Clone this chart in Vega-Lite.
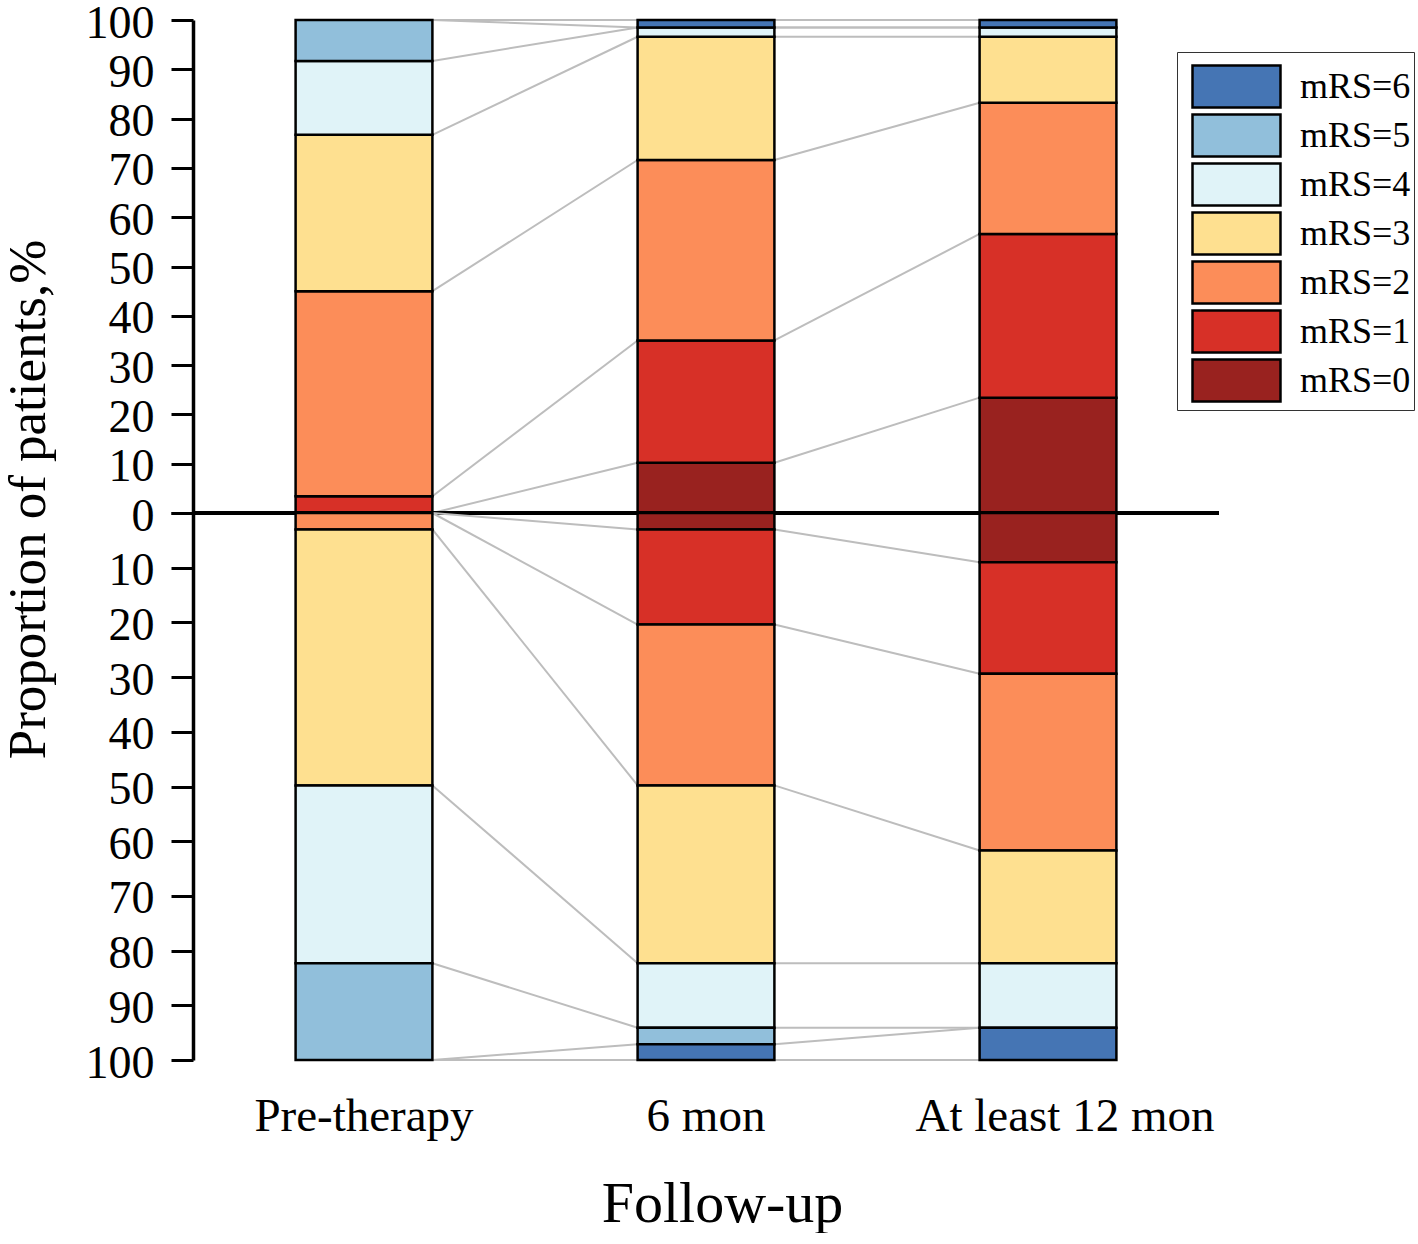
{
  "$schema": "https://vega.github.io/schema/vega-lite/v6.json",
  "description": "mRS distribution before therapy and at follow-up, two cohorts",
  "padding": {"left": 2, "top": 0, "right": 0, "bottom": 0},
  "spacing": 0,
  "bounds": "flush",
  "config": {
    "view": {"stroke": null},
    "font": "Liberation Serif",
    "axis": {"labelFont": "Liberation Serif", "titleFont": "Liberation Serif", "labelColor": "black", "titleColor": "black", "titleFontWeight": "normal"},
    "legend": {"labelFont": "Liberation Serif", "titleFont": "Liberation Serif"}
  },
  "datasets": {
    "upper": [
      {"stage": "Pre-therapy", "step": 1, "mRS": 0, "pct": 0},
      {"stage": "Pre-therapy", "step": 1, "mRS": 1, "pct": 3.4},
      {"stage": "Pre-therapy", "step": 1, "mRS": 2, "pct": 41.6},
      {"stage": "Pre-therapy", "step": 1, "mRS": 3, "pct": 31.7},
      {"stage": "Pre-therapy", "step": 1, "mRS": 4, "pct": 15.0},
      {"stage": "Pre-therapy", "step": 1, "mRS": 5, "pct": 8.3},
      {"stage": "Pre-therapy", "step": 1, "mRS": 6, "pct": 0},
      {"stage": "6 mon", "step": 2, "mRS": 0, "pct": 10.2},
      {"stage": "6 mon", "step": 2, "mRS": 1, "pct": 24.8},
      {"stage": "6 mon", "step": 2, "mRS": 2, "pct": 36.6},
      {"stage": "6 mon", "step": 2, "mRS": 3, "pct": 25.0},
      {"stage": "6 mon", "step": 2, "mRS": 4, "pct": 1.9},
      {"stage": "6 mon", "step": 2, "mRS": 5, "pct": 0},
      {"stage": "6 mon", "step": 2, "mRS": 6, "pct": 1.5},
      {"stage": "At least 12 mon", "step": 3, "mRS": 0, "pct": 23.4},
      {"stage": "At least 12 mon", "step": 3, "mRS": 1, "pct": 33.2},
      {"stage": "At least 12 mon", "step": 3, "mRS": 2, "pct": 26.6},
      {"stage": "At least 12 mon", "step": 3, "mRS": 3, "pct": 13.4},
      {"stage": "At least 12 mon", "step": 3, "mRS": 4, "pct": 1.9},
      {"stage": "At least 12 mon", "step": 3, "mRS": 5, "pct": 0},
      {"stage": "At least 12 mon", "step": 3, "mRS": 6, "pct": 1.5}
    ],
    "lower": [
      {"stage": "Pre-therapy", "step": 1, "mRS": 0, "pct": 0},
      {"stage": "Pre-therapy", "step": 1, "mRS": 1, "pct": 0},
      {"stage": "Pre-therapy", "step": 1, "mRS": 2, "pct": 3.0},
      {"stage": "Pre-therapy", "step": 1, "mRS": 3, "pct": 46.8},
      {"stage": "Pre-therapy", "step": 1, "mRS": 4, "pct": 32.5},
      {"stage": "Pre-therapy", "step": 1, "mRS": 5, "pct": 17.7},
      {"stage": "Pre-therapy", "step": 1, "mRS": 6, "pct": 0},
      {"stage": "6 mon", "step": 2, "mRS": 0, "pct": 3.0},
      {"stage": "6 mon", "step": 2, "mRS": 1, "pct": 17.4},
      {"stage": "6 mon", "step": 2, "mRS": 2, "pct": 29.4},
      {"stage": "6 mon", "step": 2, "mRS": 3, "pct": 32.5},
      {"stage": "6 mon", "step": 2, "mRS": 4, "pct": 11.8},
      {"stage": "6 mon", "step": 2, "mRS": 5, "pct": 3.0},
      {"stage": "6 mon", "step": 2, "mRS": 6, "pct": 2.9},
      {"stage": "At least 12 mon", "step": 3, "mRS": 0, "pct": 9.0},
      {"stage": "At least 12 mon", "step": 3, "mRS": 1, "pct": 20.4},
      {"stage": "At least 12 mon", "step": 3, "mRS": 2, "pct": 32.3},
      {"stage": "At least 12 mon", "step": 3, "mRS": 3, "pct": 20.6},
      {"stage": "At least 12 mon", "step": 3, "mRS": 4, "pct": 11.8},
      {"stage": "At least 12 mon", "step": 3, "mRS": 5, "pct": 0},
      {"stage": "At least 12 mon", "step": 3, "mRS": 6, "pct": 5.9}
    ]
  },
  "vconcat": [
    {
      "width": 1026,
      "height": 493,
      "data": {"name": "upper"},
      "layer": [
        {
          "transform": [
            {"window": [{"op": "sum", "field": "pct", "as": "cum"}], "groupby": ["stage"], "sort": [{"field": "mRS"}], "frame": [null, 0]},
            {"window": [{"op": "lead", "field": "cum", "as": "nextCum"}, {"op": "lead", "field": "stage", "as": "nextStage"}], "groupby": ["mRS"], "sort": [{"field": "step"}]},
            {"filter": "datum.nextStage != null"}
          ],
          "mark": {"type": "rule", "color": "#bdbdbd", "strokeWidth": 2},
          "encoding": {
            "x": {"field": "stage", "type": "nominal", "bandPosition": 0.7,
                  "scale": {"domain": ["Pre-therapy", "6 mon", "At least 12 mon"], "paddingInner": 0, "paddingOuter": 0},
                  "axis": null},
            "x2": {"field": "nextStage", "bandPosition": 0.3},
            "y": {"field": "cum", "type": "quantitative"},
            "y2": {"field": "nextCum"}
          }
        },
        {
          "transform": [{"filter": "datum.pct > 0"}],
          "mark": {"type": "bar", "width": {"band": 0.4}, "stroke": "black", "strokeWidth": 2.5},
          "encoding": {
            "x": {"field": "stage", "type": "nominal", "axis": null},
            "y": {
              "field": "pct", "type": "quantitative",
              "scale": {"domain": [0, 100], "nice": false},
              "axis": {
                "values": [0, 5, 10, 15, 20, 25, 30, 35, 40, 45, 50, 55, 60, 65, 70, 75, 80, 85, 90, 95, 100],
                "labelExpr": "datum.value % 10 === 0 ? datum.label : ''",
                "labelOverlap": false,
                "labelFontSize": 46,
                "labelPadding": 17,
                "labelOffset": 3,
                "tickSize": {"condition": {"test": "datum.value % 10 === 0", "value": 22}, "value": 11},
                "tickColor": "black",
                "tickWidth": 3,
                "domainColor": "black",
                "domainWidth": 3.5,
                "grid": false,
                "title": null
              }
            },
            "color": {
              "field": "mRS", "type": "ordinal",
              "scale": {
                "domain": [6, 5, 4, 3, 2, 1, 0],
                "range": ["#4575b4", "#91bfdb", "#e0f3f8", "#fee090", "#fc8d59", "#d73027", "#99221f"]
              },
              "legend": {
                "title": " ",
                "titleFontSize": 2,
                "titlePadding": 7,
                "orient": "none",
                "legendX": 984,
                "legendY": 32,
                "labelExpr": "'mRS=' + datum.label",
                "labelFontSize": 36,
                "labelColor": "black",
                "symbolType": "M-1,-1H3.19V1H-1Z",
                "symbolSize": 1764,
                "symbolStrokeColor": "black",
                "symbolStrokeWidth": 2.5,
                "symbolOpacity": 1,
                "symbolOffset": 11,
                "labelOffset": 64,
                "rowPadding": -7,
                "padding": 3,
                "strokeColor": "#333333",
                "fillColor": "white"
              }
            },
            "order": {"field": "mRS", "type": "quantitative"}
          }
        },
        {
          "mark": {"type": "rule", "color": "black", "strokeWidth": 4},
          "encoding": {"y": {"datum": 0, "type": "quantitative"}}
        }
      ]
    },
    {
      "width": 1026,
      "height": 547,
      "data": {"name": "lower"},
      "layer": [
        {
          "transform": [
            {"window": [{"op": "sum", "field": "pct", "as": "cum"}], "groupby": ["stage"], "sort": [{"field": "mRS"}], "frame": [null, 0]},
            {"window": [{"op": "lead", "field": "cum", "as": "nextCum"}, {"op": "lead", "field": "stage", "as": "nextStage"}], "groupby": ["mRS"], "sort": [{"field": "step"}]},
            {"filter": "datum.nextStage != null"}
          ],
          "mark": {"type": "rule", "color": "#bdbdbd", "strokeWidth": 2},
          "encoding": {
            "x": {"field": "stage", "type": "nominal", "bandPosition": 0.7,
                  "scale": {"domain": ["Pre-therapy", "6 mon", "At least 12 mon"], "paddingInner": 0, "paddingOuter": 0}},
            "x2": {"field": "nextStage", "bandPosition": 0.3},
            "y": {"field": "cum", "type": "quantitative"},
            "y2": {"field": "nextCum"}
          }
        },
        {
          "transform": [{"filter": "datum.pct > 0"}],
          "mark": {"type": "bar", "width": {"band": 0.4}, "stroke": "black", "strokeWidth": 2.5},
          "encoding": {
            "x": {
              "field": "stage", "type": "nominal",
              "axis": {
                "labelAngle": 0,
                "labelAlign": "center",
                "labelFontSize": 47,
                "labelLimit": 500,
                "labelPadding": 56,
                "labelOffset": {"condition": {"test": "datum.value === 'At least 12 mon'", "value": 17}, "value": 0},
                "ticks": false,
                "tickSize": 0,
                "domain": false,
                "title": "Follow-up",
                "titleFontSize": 58,
                "titlePadding": 36,
                "titleAlign": "center",
                "titleX": 529
              }
            },
            "y": {
              "field": "pct", "type": "quantitative",
              "scale": {"domain": [0, 100], "nice": false, "reverse": true},
              "axis": {
                "values": [0, 5, 10, 15, 20, 25, 30, 35, 40, 45, 50, 55, 60, 65, 70, 75, 80, 85, 90, 95, 100],
                "labelExpr": "datum.value % 10 === 0 && datum.value > 0 ? datum.label : ''",
                "labelOverlap": false,
                "labelFontSize": 46,
                "labelPadding": 17,
                "labelOffset": 3,
                "tickSize": {"condition": {"test": "datum.value % 10 === 0", "value": 22}, "value": 11},
                "tickColor": "black",
                "tickWidth": 3,
                "domainColor": "black",
                "domainWidth": 3.5,
                "grid": false,
                "title": "Proportion of patients,%",
                "titleFontSize": 53,
                "titlePadding": 30,
                "titleAlign": "center",
                "titleY": -14
              }
            },
            "color": {"field": "mRS", "type": "ordinal"},
            "order": {"field": "mRS", "type": "quantitative"}
          }
        }
      ]
    }
  ]
}
